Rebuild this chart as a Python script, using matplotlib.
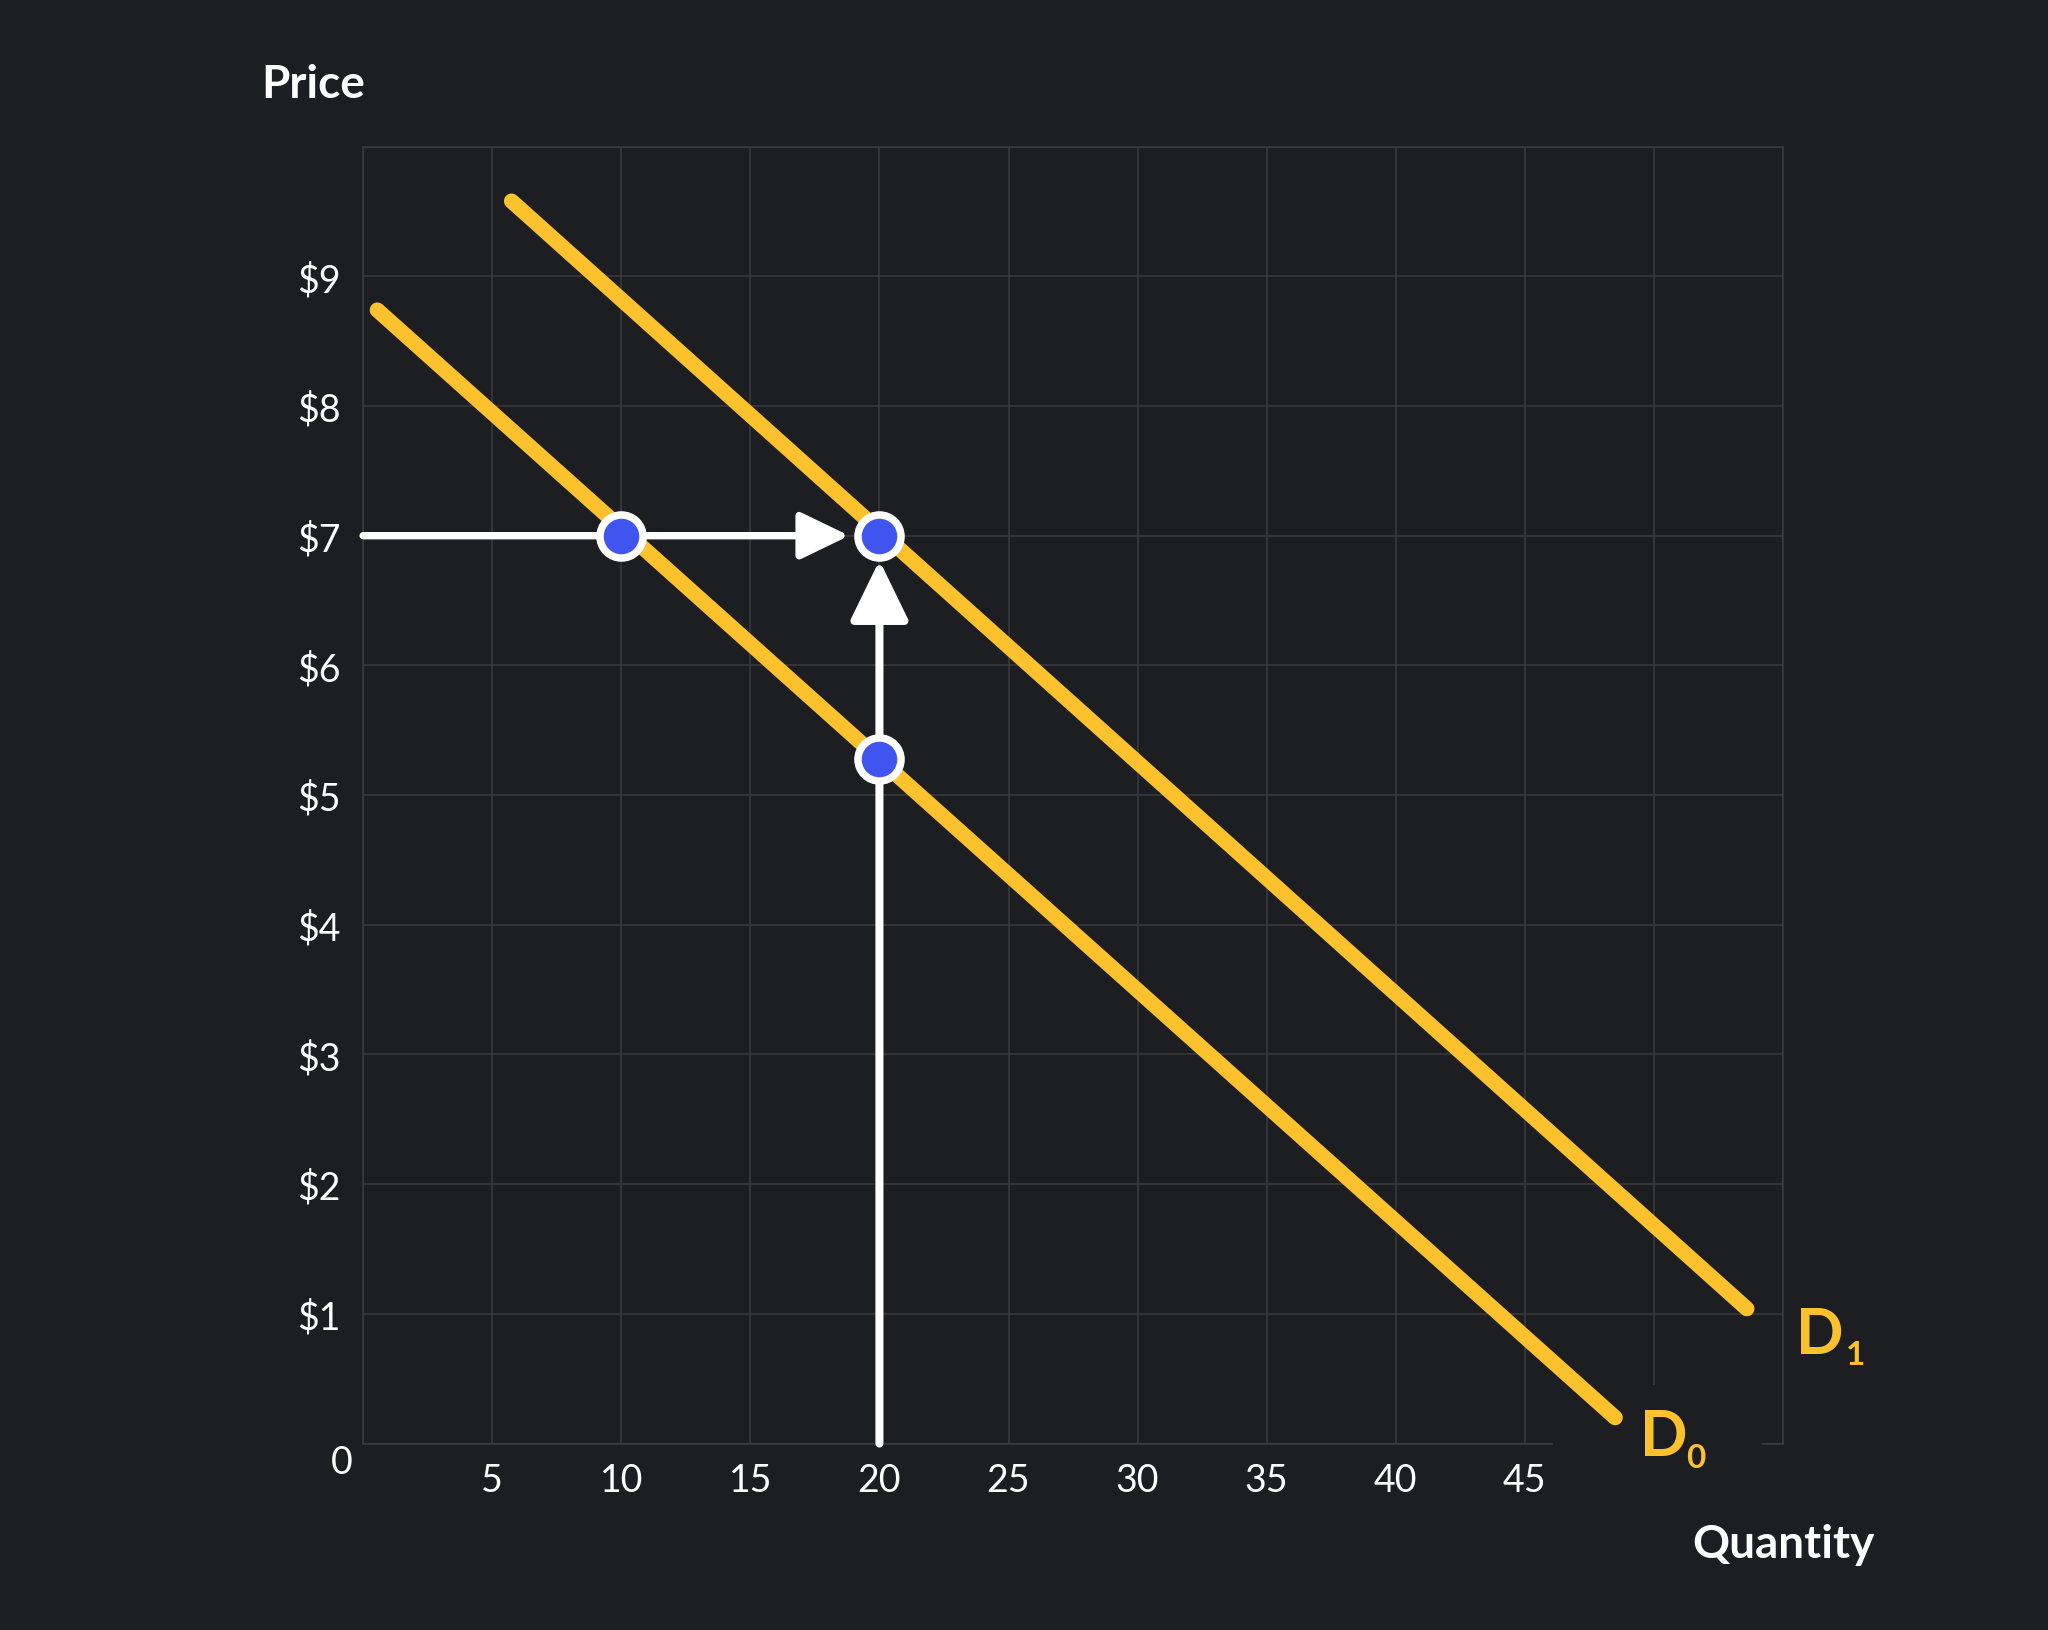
import matplotlib
matplotlib.use("Agg")
import matplotlib.pyplot as plt
from matplotlib.patches import Rectangle

# Data
qty_ticks = [0, 5, 10, 15, 20, 25, 30, 35, 40, 45, 50, 55]
qty_labels = ["", "5", "10", "15", "20", "25", "30", "35", "40", "45", "", ""]
price_ticks = [0, 1, 2, 3, 4, 5, 6, 7, 8, 9, 10]
price_labels = ["", "$1", "$2", "$3", "$4", "$5", "$6", "$7", "$8", "$9", ""]

d0_q = [0.55, 48.5]
d0_p = [8.74, 0.2]
d1_q = [5.75, 53.6]
d1_p = [9.58, 1.04]

point_q = [10, 20, 20]
point_p = [7, 7, 5.28]

# arrows: (start, end)
h_arrow = ((0, 7), (18.83, 7))
v_arrow = ((20, 0), (20, 6.81))

BG = "#1d1e22"
GRID = "#3b3c40"
YELLOW = "#fcc22d"
BLUE = "#4054f0"
FONT = "Lato"

fig = plt.figure(figsize=(20.48, 16.31), dpi=100, facecolor=BG)
ax = fig.add_axes([0.1773, 0.1143, 0.6933, 0.7952], facecolor=BG)

ax.set_xlim(0, 55)
ax.set_ylim(0, 10)
ax.set_xticks(qty_ticks)
ax.set_xticklabels(qty_labels)
ax.set_yticks(price_ticks)
ax.set_yticklabels(price_labels)
ax.tick_params(length=0, labelcolor="white", labelsize=27)
ax.tick_params(axis="x", pad=13)
ax.tick_params(axis="y", pad=16)
for lab in ax.get_xticklabels() + ax.get_yticklabels():
    lab.set_fontfamily(FONT)
ax.grid(True, color=GRID, lw=1.1)
ax.set_axisbelow(True)
for sp in ax.spines.values():
    sp.set_color(GRID)
    sp.set_linewidth(1.1)

# cover behind the D0 label
ax.add_patch(Rectangle((46.1, -0.2), 8.1, 0.65, facecolor=BG, edgecolor="none",
                       zorder=2.7, clip_on=False))

# demand curves
ax.plot(d0_q, d0_p, color=YELLOW, lw=11, solid_capstyle="round", zorder=3, clip_on=False)
ax.plot(d1_q, d1_p, color=YELLOW, lw=11, solid_capstyle="round", zorder=3, clip_on=False)

# arrows
ax.annotate("", xy=h_arrow[1], xytext=h_arrow[0],
            arrowprops=dict(arrowstyle="-|>,head_length=3.0,head_width=1.45", mutation_scale=10,
                            color="white", lw=5.3, shrinkA=0, shrinkB=0), zorder=4)
ax.annotate("", xy=v_arrow[1], xytext=v_arrow[0],
            arrowprops=dict(arrowstyle="-|>,head_length=3.7,head_width=1.8", mutation_scale=10,
                            color="white", lw=5.8, shrinkA=0, shrinkB=0), zorder=4)

# points
ax.plot(point_q, point_p, "o", ms=31, mfc=BLUE, mec="white", mew=5.4, zorder=5, clip_on=False)

# curve labels
lbl = dict(color=YELLOW, fontfamily=FONT, fontweight="bold", ha="left", va="baseline", zorder=6)
ax.text(55.5, 0.70, "D", fontsize=45, **lbl)
ax.text(57.45, 0.61, "1", fontsize=24, **lbl)
ax.text(49.45, -0.086, "D", fontsize=45, **lbl)
ax.text(51.25, -0.18, "0", fontsize=24, **lbl)

# origin label
ax.annotate("0", xy=(0, 0), xytext=(-21, -18), textcoords="offset pixels", color="white",
            fontsize=27, fontfamily=FONT, ha="center", va="center", annotation_clip=False)

# axis titles
fig.text(0.1274, 0.9399, "Price", color="white", fontsize=33, fontweight="bold",
         fontfamily=FONT, ha="left", va="baseline")
fig.text(0.8265, 0.0447, "Quantity", color="white", fontsize=33, fontweight="bold",
         fontfamily=FONT, ha="left", va="baseline")

fig.savefig("out.png", dpi=100, facecolor=BG)
